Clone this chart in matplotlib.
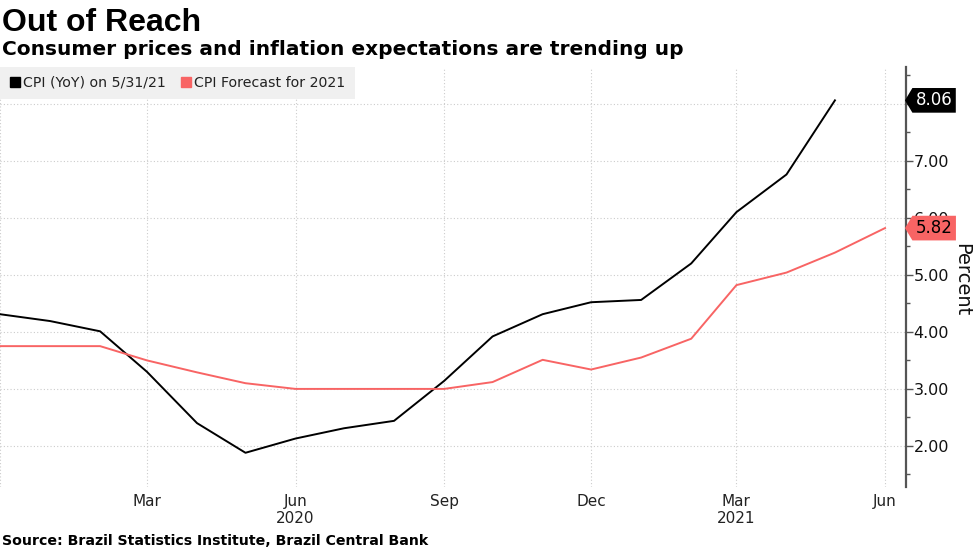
import matplotlib
matplotlib.use('Agg')
import matplotlib.pyplot as plt
import matplotlib.transforms as mtransforms
from matplotlib.lines import Line2D
from matplotlib.path import Path
from matplotlib.ticker import MultipleLocator
import pandas as pd

# monthly values
cpi_dates = pd.date_range('2019-12-01', '2021-05-01', freq='MS')
cpi = [4.31, 4.19, 4.01, 3.30, 2.40, 1.88, 2.13, 2.31, 2.44, 3.14, 3.92, 4.31,
       4.52, 4.56, 5.20, 6.10, 6.76, 8.06]
fc_dates = pd.date_range('2019-12-01', '2021-06-01', freq='MS')
forecast = [3.75, 3.75, 3.75, 3.50, 3.29, 3.10, 3.00, 3.00, 3.00, 3.00, 3.12, 3.51,
            3.34, 3.55, 3.88, 4.82, 5.04, 5.39, 5.82]

tick_dates = pd.to_datetime(['2019-12-01', '2020-03-01', '2020-06-01', '2020-09-01',
                             '2020-12-01', '2021-03-01', '2021-06-01'])
tick_labels = ['', 'Mar', 'Jun\n2020', 'Sep', 'Dec', 'Mar\n2021', 'Jun']
y_ticks = [2, 3, 4, 5, 6, 7, 8]
# 8.00 sits fully under the 8.06 tag in the original
y_labels = ['2.00', '3.00', '4.00', '5.00', '6.00', '7.00', '']

BLACK = '#000000'
RED = '#f86464'


def tag_box(x0, y0, width, height, mutation_size):
    # rectangle with a pointed left end, like the value tags on the axis
    pad = 0.2 * mutation_size
    x0, y0 = x0 - pad, y0 - pad
    x1, y1 = x0 + width + 2 * pad, y0 + height + 2 * pad
    tip = (y1 - y0) * 0.3
    ym = (y0 + y1) / 2
    return Path([(x0 - tip, ym), (x0, y0), (x1, y0), (x1, y1), (x0, y1), (x0 - tip, ym)],
                closed=True)


fig = plt.figure(figsize=(9.77, 5.49), dpi=100)
ax = fig.add_axes([0.0, 62 / 549, 906 / 977, (487 - 66.7) / 549])

ax.plot(cpi_dates, cpi, color=BLACK, lw=1.4, zorder=3)
ax.plot(fc_dates, forecast, color=RED, lw=1.4, zorder=3)

ax.set_xlim(pd.Timestamp('2019-12-01'), pd.Timestamp('2021-06-14'))
ax.set_ylim(1.28, 8.65)

ax.set_xticks(tick_dates)
ax.set_xticklabels(tick_labels)
ax.tick_params(axis='x', length=0, pad=5, labelsize=11, labelcolor='#222222')

ax.yaxis.tick_right()
ax.set_yticks(y_ticks)
ax.set_yticklabels(y_labels)
ax.yaxis.set_minor_locator(MultipleLocator(0.5))
ax.tick_params(axis='y', which='major', length=5, width=1, color='#555555',
               labelsize=11.5, pad=0.5, labelcolor='#111111')
ax.tick_params(axis='y', which='minor', length=3, width=1, color='#555555')

for s in ['left', 'top', 'bottom']:
    ax.spines[s].set_visible(False)
ax.spines['right'].set_color('#555555')
ax.spines['right'].set_linewidth(1.6)

ax.grid(True, which='major', color='#cccccc', linestyle=(0, (1, 2)), lw=0.8)
ax.set_axisbelow(True)

# value tags at the right axis
trans = mtransforms.blended_transform_factory(ax.transAxes, ax.transData)
ax.annotate(f'{cpi[-1]:.2f}', xy=(1, cpi[-1]), xycoords=trans, xytext=(7, 0),
            textcoords='offset points', ha='left', va='center', fontsize=12,
            color='white', annotation_clip=False, zorder=10,
            bbox=dict(boxstyle=tag_box, fc=BLACK, ec='none'))
ax.annotate(f'{forecast[-1]:.2f}', xy=(1, forecast[-1]), xycoords=trans, xytext=(7, 0),
            textcoords='offset points', ha='left', va='center', fontsize=12,
            color='black', annotation_clip=False, zorder=10,
            bbox=dict(boxstyle=tag_box, fc=RED, ec='none'))

handles = [Line2D([], [], marker='s', ls='none', color=BLACK, markersize=7.5),
           Line2D([], [], marker='s', ls='none', color=RED, markersize=7.5)]
leg = ax.legend(handles, ['CPI (YoY) on 5/31/21', 'CPI Forecast for 2021'],
                loc='upper left', bbox_to_anchor=(0, 1), borderaxespad=0, ncol=2,
                frameon=True, fancybox=False, fontsize=10.2, handlelength=0.8,
                handletextpad=0.2, columnspacing=1.0, borderpad=0.65)
leg.get_frame().set_facecolor('#f0f0f0')
leg.get_frame().set_edgecolor('none')
leg.get_frame().set_alpha(1)
for t in leg.get_texts():
    t.set_color('#222222')

fig.text(962 / 977, 1 - 280 / 549, 'Percent', rotation=270, ha='center', va='center',
         fontsize=14, color='#111111')

fig.text(0.002, 1 - 31 / 549, 'Out of Reach', ha='left', va='baseline',
         fontsize=23, fontweight='bold', family='Liberation Sans')
fig.text(0.002, 1 - 55 / 549, 'Consumer prices and inflation expectations are trending up',
         ha='left', va='baseline', fontsize=14.5, fontweight='bold', family='DejaVu Sans')
fig.text(0.002, 1 - 545 / 549, 'Source: Brazil Statistics Institute, Brazil Central Bank',
         ha='left', va='baseline', fontsize=10.2, fontweight='bold', family='DejaVu Sans')

fig.savefig('out.png', dpi=100)
